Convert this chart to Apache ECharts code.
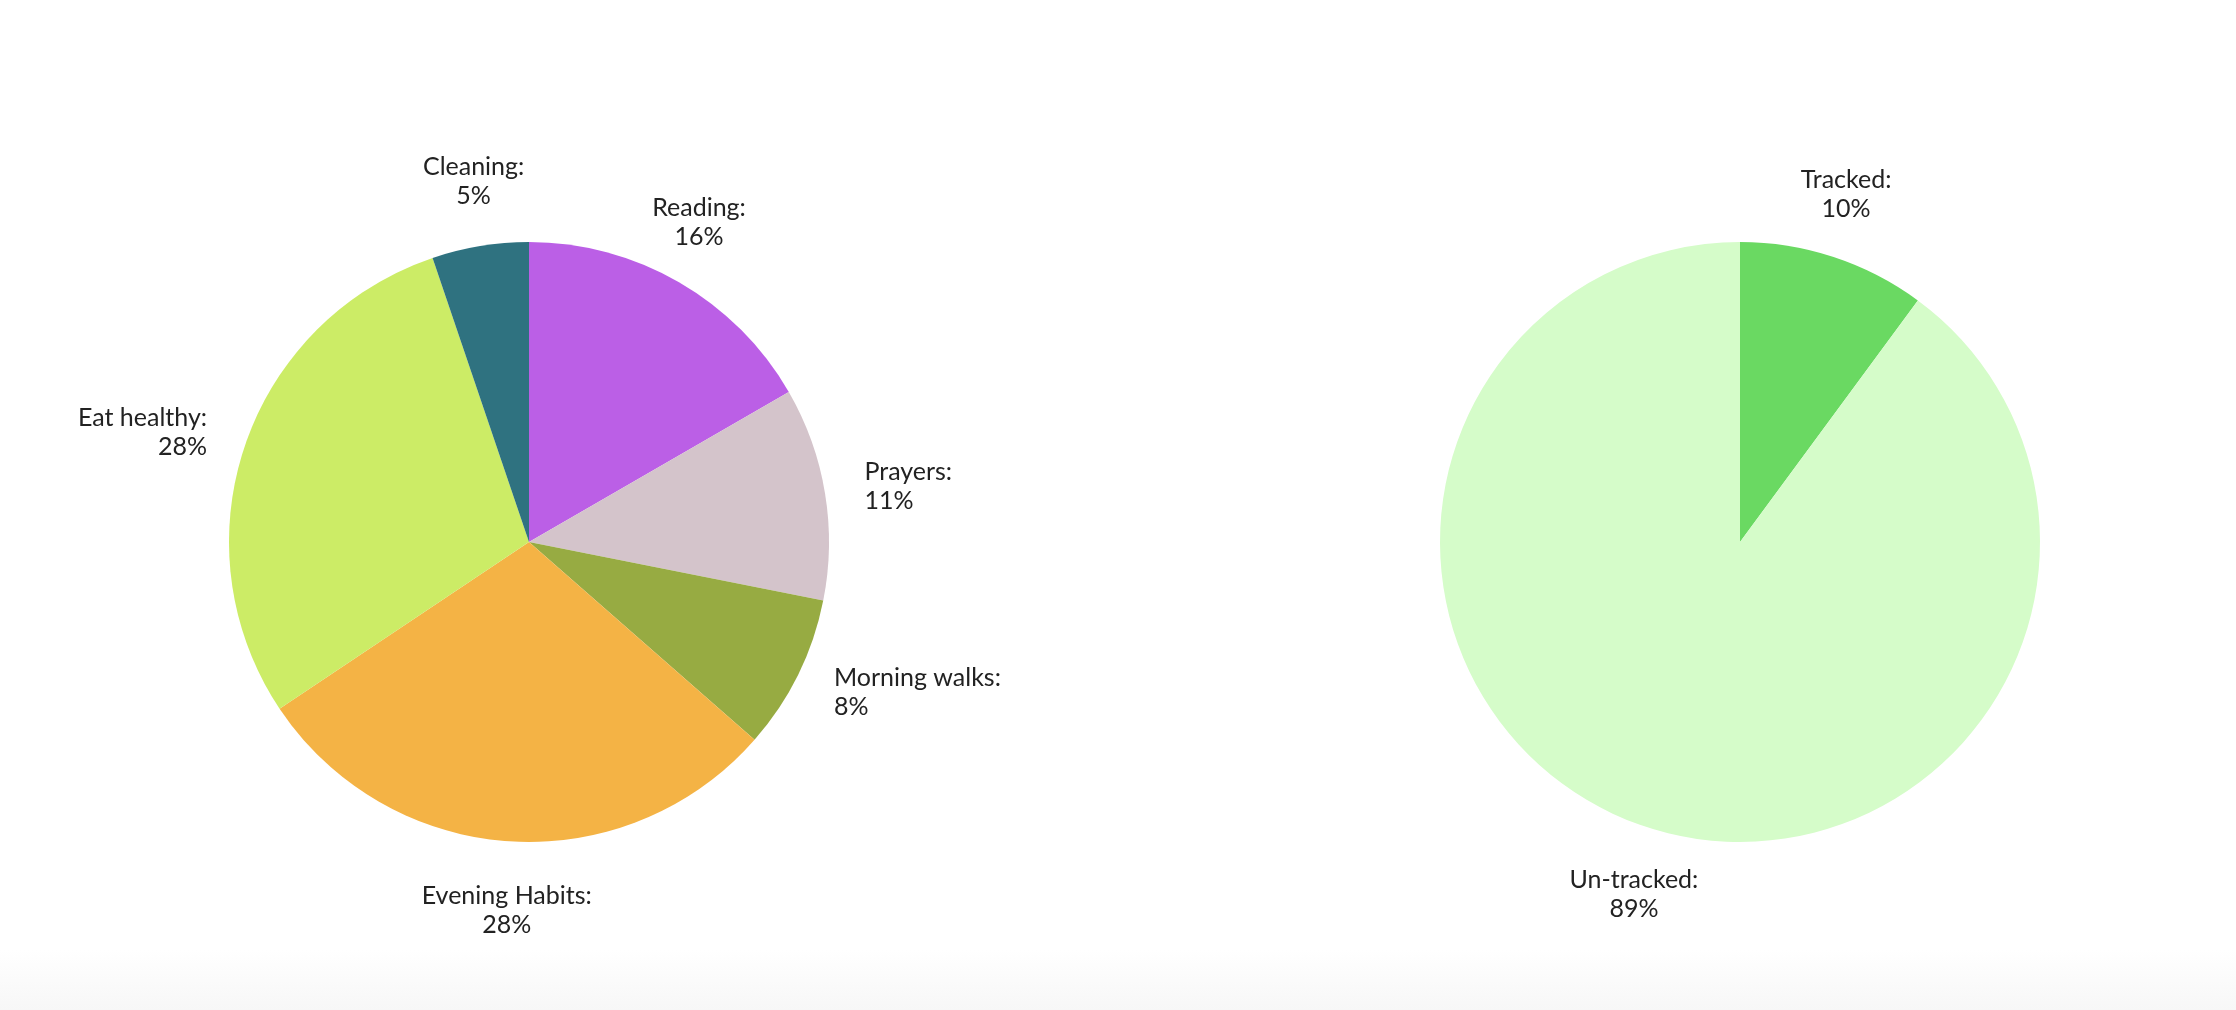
<!DOCTYPE html>
<html>
<head>
<meta charset="utf-8">
<script src="https://cdn.jsdelivr.net/npm/echarts@6/dist/echarts.min.js"></script>
<style>
  html, body { margin: 0; padding: 0; background: #ffffff; }
  #chart { width: 2236px; height: 1010px; position: absolute; left: 0; top: 0; }
  #foot { position: absolute; left: 0; bottom: 0; width: 2236px; height: 60px;
          background: linear-gradient(to bottom, #ffffff, #f7f7f7); }
</style>
</head>
<body>
<div id="foot"></div>
<div id="chart"></div>
<script>
// ---- data ----
const habitNames = ['Reading', 'Prayers', 'Morning walks', 'Evening Habits', 'Eat healthy', 'Cleaning'];
const habitValues = [16, 11, 8, 28, 28, 5];
const habitColors = ['#BB5FE6', '#D4C4CB', '#97AB42', '#F4B345', '#CCEC66', '#2F7280'];

const trackNames = ['Tracked', 'Un-tracked'];
const trackValues = [10, 89];
const trackColors = ['#6AD962', '#D5FCC9'];

// ---- layout ----
const RADIUS = 300;
const LABEL_GAP = 40;
const centers = [[529, 542], [1740, 542]];

function midAngles(values) {
  const total = values.reduce((a, b) => a + b, 0);
  let acc = 0;
  return values.map(v => {
    const mid = (acc + v / 2) / total * Math.PI * 2;
    acc += v;
    return mid;
  });
}

function makeLayout(values, center) {
  const mids = midAngles(values);
  return function (params) {
    const a = mids[params.dataIndex];
    const dx = Math.sin(a), dy = -Math.cos(a);
    const R = RADIUS + LABEL_GAP;
    const x = center[0] + R * dx;
    const y = center[1] + R * dy;
    if (Math.abs(dy) > Math.abs(dx)) {
      return { x: x, y: y + (dy < 0 ? 4 : 0), align: 'center', verticalAlign: dy < 0 ? 'bottom' : 'top' };
    }
    return { x: x, y: y, align: dx > 0 ? 'left' : 'right', verticalAlign: 'middle' };
  };
}

function makeSeries(names, values, colors, center) {
  return {
    type: 'pie',
    center: center,
    radius: RADIUS,
    startAngle: 90,
    clockwise: true,
    avoidLabelOverlap: false,
    silent: true,
    animation: false,
    itemStyle: { borderWidth: 0 },
    label: {
      show: true,
      position: 'outside',
      formatter: p => p.name + ':\n' + p.value + '%',
      fontFamily: 'Lato, "Noto Sans", sans-serif',
      fontSize: 25,
      lineHeight: 29,
      color: '#222222'
    },
    labelLine: { show: false },
    labelLayout: makeLayout(values, center),
    data: names.map((n, i) => ({ name: n, value: values[i], itemStyle: { color: colors[i] } }))
  };
}

const chart = echarts.init(document.getElementById('chart'), null, { renderer: 'canvas' });
chart.setOption({
  backgroundColor: 'transparent',
  animation: false,
  series: [
    makeSeries(habitNames, habitValues, habitColors, centers[0]),
    makeSeries(trackNames, trackValues, trackColors, centers[1])
  ]
});
</script>
</body>
</html>
